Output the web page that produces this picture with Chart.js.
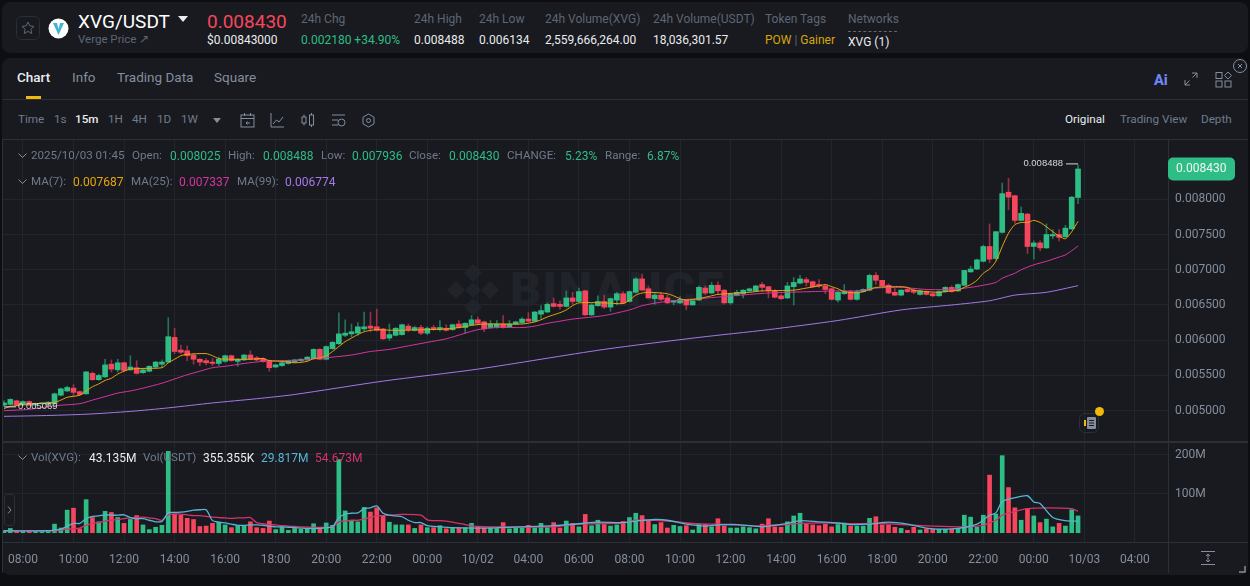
<!DOCTYPE html>
<html lang="en">
<head>
<meta charset="UTF-8">
<title>XVG/USDT</title>
<script src="https://cdn.jsdelivr.net/npm/chart.js"></script>
<style>
    html, body { margin: 0; padding: 0; width: 1250px; height: 586px; overflow: hidden; background: #0c0e11; font-family: Roboto, sans-serif; font-size: 12px; color: #848e9c; }
    .panel { position: absolute; background: #181a20; border-radius: 8px; }
    .t { position: absolute; white-space: nowrap; transform: translateY(-50%); line-height: 1; }
    .hr { position: absolute; background: #2b2f36; height: 1px; }
    .g { color: #5e6673; }
    .w { color: #eaecef; }
    .up { color: #2ebd85; }
    .yl { color: #d9a508; }
    .lg { font-size: 11.600px; color: #707a8a; }
    .tf { font-size: 11.700px; color: #707a8a; }
    canvas { position: absolute; left: 0; }
    svg { position: absolute; }
</style>
</head>
<body>
    <!-- header strip -->
    <div class="panel" style="left:2px;top:2px;width:1246px;height:51px"></div>
    <svg style="left:16px;top:16px" width="24" height="24" fill="none" stroke="#5e6673"><rect x=".5" y=".5" width="23" height="23" rx="5" stroke="#2b2f36"/><path d="M12 6l1.800 3.900 4.200.5-3.100 2.900.8 4.200-3.700-2.100-3.700 2.100.8-4.200L6 10.400l4.200-.5z"/></svg>
    <svg style="left:48px;top:18px" width="21" height="21"><circle cx="10.500" cy="10.500" r="10" fill="#fff"/><path d="M5 5h11l-5.500 12z" fill="#42b5d6"/><path d="M9 5h3l-1.500 6z" fill="#fff"/></svg>
    <span class="t" style="left:78px;top:21px;font-size:19px;color:#fff">XVG/USDT</span>
    <svg style="left:178px;top:16px" width="10" height="6"><path d="M0 0h10l-5 6z" fill="#eaecef"/></svg>
    <span class="t g" style="left:78px;top:40px;font-size:11.500px">Verge Price ↗</span>
    <span class="t" style="left:207px;top:21px;font-size:19px;color:#f6465d">0.008430</span>
    <span class="t w" style="left:207px;top:40px">$0.00843000</span>
    <span class="t g" style="left:301px;top:19px">24h Chg</span>
    <span class="t up" style="left:301px;top:40px">0.002180 +34.90%</span>
    <span class="t g" style="left:414px;top:19px">24h High</span>
    <span class="t w" style="left:414px;top:40px">0.008488</span>
    <span class="t g" style="left:479px;top:19px">24h Low</span>
    <span class="t w" style="left:479px;top:40px">0.006134</span>
    <span class="t g" style="left:545px;top:19px">24h Volume(XVG)</span>
    <span class="t w" style="left:545px;top:40px">2,559,666,264.00</span>
    <span class="t g" style="left:653px;top:19px">24h Volume(USDT)</span>
    <span class="t w" style="left:653px;top:40px">18,036,301.57</span>
    <span class="t g" style="left:765px;top:19px">Token Tags</span>
    <span class="t yl" style="left:765px;top:40px">POW <span class="g">|</span> Gainer</span>
    <span class="t g" style="left:848px;top:19px">Networks</span>
    <div style="position:absolute;left:848px;top:31px;width:49px;border-top:1px dashed #5e6673"></div>
    <span class="t w" style="left:848px;top:42px">XVG (1)</span>

    <!-- chart panel -->
    <div class="panel" style="left:2px;top:58px;width:1246px;height:517px"></div>
    <span class="t w" style="left:17px;top:78px;font-size:13.500px;font-weight:500">Chart</span>
    <span class="t" style="left:72px;top:78px;font-size:13.500px">Info</span>
    <span class="t" style="left:117px;top:78px;font-size:13.500px">Trading Data</span>
    <span class="t" style="left:214px;top:78px;font-size:13.500px">Square</span>
    <div style="position:absolute;left:26px;top:96px;width:15px;height:3px;background:#f0b90b"></div>
    <div class="hr" style="left:2px;top:99px;width:1246px"></div>
    <span class="t" style="left:1154px;top:81px;font-size:14.500px;font-weight:800;color:#6f86f5">Ai</span>
    <svg style="left:1184px;top:72px" width="14" height="14" fill="none" stroke="#848e9c"><path d="M8 1h5v5M13 1L8.500 5.500M6 13H1V8M1 13l4.500-4.500"/></svg>
    <svg style="left:1215px;top:71px" width="17" height="17" fill="none" stroke="#848e9c"><rect x="1" y="1.500" width="6" height="6"/><rect x="1" y="10" width="6" height="6"/><rect x="10" y="10" width="6" height="6"/><path d="M13 1l3.500 3.500L13 8 9.500 4.500z"/></svg>
    <svg style="left:1232px;top:58px" width="16" height="16" fill="none" stroke="#848e9c"><circle cx="8" cy="8" r="6.500"/><path d="M6 6l4 4M10 6l-4 4"/></svg>

    <span class="t tf" style="left:18px;top:120px">Time</span>
    <span class="t tf" style="left:54px;top:120px">1s</span>
    <span class="t w" style="left:75px;top:120px;font-size:11.700px;font-weight:500">15m</span>
    <span class="t tf" style="left:108px;top:120px">1H</span>
    <span class="t tf" style="left:132px;top:120px">4H</span>
    <span class="t tf" style="left:157px;top:120px">1D</span>
    <span class="t tf" style="left:181px;top:120px">1W</span>
    <svg style="left:213px;top:118px" width="8" height="5"><path d="M0 0h8l-4 5z" fill="#848e9c"/></svg>
    <svg style="left:240px;top:112px" width="15" height="16" fill="none" stroke="#848e9c"><rect x="1" y="3" width="13" height="12"/><path d="M1 6.500h13M4.500 1v3M10.500 1v3M10 11H6l1.500-1.500M6 11l1.500 1.500"/></svg>
    <svg style="left:270px;top:112px" width="15" height="16" fill="none" stroke="#848e9c"><path d="M1 1v14h13M3 12l3.500-4 2.500 2 4-5"/></svg>
    <svg style="left:301px;top:113px" width="14" height="14" fill="none" stroke="#848e9c"><rect x="1" y="4" width="4" height="6"/><rect x="8.500" y="2" width="4" height="10"/><path d="M3 1.500V4M3 10v2.500M10.500 0v2M10.500 12v2"/></svg>
    <svg style="left:331px;top:113px" width="15" height="15" fill="none" stroke="#848e9c"><path d="M1 2h13M1 7h6M1 12h6"/><circle cx="10.500" cy="9.500" r="3.500"/></svg>
    <svg style="left:362px;top:113px" width="13" height="15" fill="none" stroke="#848e9c"><path d="M6.500 1l5.500 3.200v6.600l-5.500 3.200L1 10.800V4.200z"/><circle cx="6.500" cy="7.500" r="2"/></svg>
    <span class="t w" style="left:1065px;top:120px;font-size:11.700px">Original</span>
    <span class="t tf" style="left:1120px;top:120px">Trading View</span>
    <span class="t tf" style="left:1201px;top:120px">Depth</span>
    <div class="hr" style="left:2px;top:139px;width:1246px"></div>

    <!-- watermark sits under the transparent canvases -->
    <svg style="left:443px;top:260px" width="60" height="60" fill="#20232a"><path d="M30 4l9 9-9 9-9-9zM13 21l9 9-9 9-9-9zM47 21l9 9-9 9-9-9zM30 22l8 8-8 8-8-8zM30 38l9 9-9 9-9-9z"/></svg>
    <span class="t" style="left:510px;top:290px;font-size:48px;font-weight:900;color:#20232a;letter-spacing:1.500px">BINANCE</span>

    <canvas id="price_chart" width="1250" height="301" style="top:140px;width:1250px;height:301px"></canvas>
    <div class="hr" style="left:2px;top:441px;width:1246px;height:2px"></div>
    <canvas id="volume_chart" width="1250" height="130" style="top:443px;width:1250px;height:130px"></canvas>
    <div class="hr" style="left:2px;top:542px;width:1246px"></div>
    <div class="hr" style="left:1168px;top:542px;width:1px;height:31px"></div>
    <div class="hr" style="left:2px;top:140px;width:1px;height:433px"></div>

    <!-- legends -->
    <svg style="left:18px;top:153px" width="9" height="6" fill="none" stroke="#848e9c"><path d="M.5.500L4.500 4.500 8.500.5"/></svg>
    <span class="t lg" style="left:31px;top:156px">2025/10/03 01:45</span>
    <span class="t lg" style="left:132px;top:156px">Open:</span><span class="t up" style="left:170px;top:156px">0.008025</span>
    <span class="t lg" style="left:228px;top:156px">High:</span><span class="t up" style="left:263px;top:156px">0.008488</span>
    <span class="t lg" style="left:321px;top:156px">Low:</span><span class="t up" style="left:352px;top:156px">0.007936</span>
    <span class="t lg" style="left:409px;top:156px">Close:</span><span class="t up" style="left:449px;top:156px">0.008430</span>
    <span class="t lg" style="left:507px;top:156px">CHANGE:</span><span class="t up" style="left:565px;top:156px">5.23%</span>
    <span class="t lg" style="left:605px;top:156px">Range:</span><span class="t up" style="left:647px;top:156px">6.87%</span>
    <svg style="left:18px;top:179px" width="9" height="6" fill="none" stroke="#848e9c"><path d="M.5.500L4.500 4.500 8.500.5"/></svg>
    <span class="t lg" style="left:31px;top:182px">MA(7):</span><span class="t" style="left:73px;top:182px;color:#e6a70c">0.007687</span>
    <span class="t lg" style="left:131px;top:182px">MA(25):</span><span class="t" style="left:179px;top:182px;color:#d6359f">0.007337</span>
    <span class="t lg" style="left:237px;top:182px">MA(99):</span><span class="t" style="left:285px;top:182px;color:#a678e8">0.006774</span>
    <svg style="left:18px;top:455px" width="9" height="6" fill="none" stroke="#848e9c"><path d="M.5.500L4.500 4.500 8.500.5"/></svg>
    <span class="t lg" style="left:31px;top:458px">Vol(XVG):</span><span class="t w" style="left:89px;top:458px">43.135M</span>
    <span class="t lg" style="left:143px;top:458px">Vol(USDT)</span><span class="t w" style="left:203px;top:458px">355.355K</span>
    <span class="t" style="left:261px;top:458px;color:#56b6d6">29.817M</span>
    <span class="t" style="left:315px;top:458px;color:#d6336c">54.673M</span>

    <svg style="left:4px;top:494px" width="11" height="32" fill="none" stroke="#2b2f36"><rect x=".5" y=".5" width="10" height="31" rx="3"/><path d="M4 12.500L7 16l-3 3.500" stroke="#848e9c"/></svg>
    <svg style="left:1079px;top:406px" width="26" height="28" fill="none"><rect x=".5" y="7.500" width="19" height="19" rx="5" stroke="#2b2f36"/><rect x="8" y="11" width="9" height="12" rx="1" fill="#848e9c"/><path d="M10 14.500h5M10 17h5M10 19.500h5" stroke="#181a20"/><rect x="5" y="14" width="2" height="6" fill="#f0b90b"/><circle cx="20.500" cy="5.500" r="4.500" fill="#f0b90b"/></svg>
    <svg style="left:1201px;top:551px" width="14" height="14" fill="none" stroke="#848e9c"><path d="M0 .5h14M0 13.500h14M7 3v8M5 5l2-2 2 2M5 9l2 2 2-2"/></svg>
    <svg style="left:1239px;top:566px" width="7" height="7" fill="none" stroke="#848e9c" stroke-width="1.500"><path d="M6 0v6H0"/></svg>

    <script>
        // candles are 15m, oldest first
        const opens = [
            0.00508, 0.00509, 0.00514, 0.00508, 0.00513, 0.00508, 0.00510, 0.00509, 0.00510, 0.00522,
            0.00528, 0.00532, 0.00527, 0.00524, 0.00553, 0.00544, 0.00548, 0.00566, 0.00558, 0.00568,
            0.00558, 0.00561, 0.00554, 0.00556, 0.00562, 0.00566, 0.00569, 0.00604, 0.00586, 0.00585,
            0.00579, 0.00573, 0.00571, 0.00569, 0.00567, 0.00570, 0.00578, 0.00570, 0.00572, 0.00579,
            0.00575, 0.00574, 0.00571, 0.00562, 0.00564, 0.00567, 0.00569, 0.00571, 0.00572, 0.00574,
            0.00587, 0.00573, 0.00588, 0.00595, 0.00607, 0.00609, 0.00610, 0.00616, 0.00620, 0.00619,
            0.00616, 0.00603, 0.00607, 0.00608, 0.00620, 0.00614, 0.00618, 0.00610, 0.00618, 0.00615,
            0.00617, 0.00615, 0.00623, 0.00618, 0.00622, 0.00629, 0.00626, 0.00618, 0.00619, 0.00623,
            0.00619, 0.00623, 0.00625, 0.00630, 0.00627, 0.00637, 0.00640, 0.00652, 0.00651, 0.00648,
            0.00660, 0.00655, 0.00670, 0.00636, 0.00649, 0.00655, 0.00647, 0.00657, 0.00666, 0.00655,
            0.00668, 0.00687, 0.00673, 0.00659, 0.00664, 0.00660, 0.00654, 0.00653, 0.00657, 0.00650,
            0.00657, 0.00674, 0.00667, 0.00678, 0.00671, 0.00653, 0.00664, 0.00666, 0.00670, 0.00670,
            0.00679, 0.00676, 0.00670, 0.00663, 0.00660, 0.00676, 0.00681, 0.00686, 0.00683, 0.00679,
            0.00677, 0.00673, 0.00657, 0.00666, 0.00669, 0.00658, 0.00669, 0.00671, 0.00692, 0.00685,
            0.00678, 0.00668, 0.00664, 0.00672, 0.00671, 0.00665, 0.00669, 0.00666, 0.00663, 0.00669,
            0.00675, 0.00670, 0.00678, 0.00697, 0.00701, 0.00712, 0.00733, 0.00716, 0.00753, 0.00810,
            0.00805, 0.00770, 0.00779, 0.00733, 0.00738, 0.00731, 0.00748, 0.00750, 0.00747, 0.00758,
            0.008025
        ];
        const closes = [
            0.00511, 0.00516, 0.00508, 0.00513, 0.00508, 0.00510, 0.00511, 0.00512, 0.00524, 0.00531,
            0.00533, 0.00526, 0.00523, 0.00555, 0.00544, 0.00550, 0.00565, 0.00559, 0.00568, 0.00557,
            0.00562, 0.00553, 0.00558, 0.00563, 0.00569, 0.00569, 0.00605, 0.00584, 0.00583, 0.00578,
            0.00573, 0.00569, 0.00568, 0.00567, 0.00573, 0.00578, 0.00571, 0.00573, 0.00579, 0.00573,
            0.00572, 0.00570, 0.00561, 0.00565, 0.00568, 0.00571, 0.00572, 0.00573, 0.00576, 0.00587,
            0.00573, 0.00591, 0.00597, 0.00609, 0.00610, 0.00612, 0.00619, 0.00619, 0.00617, 0.00614,
            0.00602, 0.00608, 0.00617, 0.00622, 0.00615, 0.00618, 0.00610, 0.00617, 0.00615, 0.00618,
            0.00614, 0.00622, 0.00618, 0.00624, 0.00629, 0.00624, 0.00616, 0.00623, 0.00623, 0.00618,
            0.00623, 0.00626, 0.00630, 0.00627, 0.00640, 0.00642, 0.00651, 0.00648, 0.00648, 0.00660,
            0.00655, 0.00669, 0.00636, 0.00650, 0.00655, 0.00647, 0.00659, 0.00666, 0.00653, 0.00669,
            0.00687, 0.00671, 0.00660, 0.00664, 0.00658, 0.00653, 0.00656, 0.00658, 0.00650, 0.00656,
            0.00675, 0.00667, 0.00678, 0.00670, 0.00653, 0.00666, 0.00668, 0.00671, 0.00673, 0.00677,
            0.00675, 0.00670, 0.00661, 0.00659, 0.00677, 0.00682, 0.00687, 0.00682, 0.00676, 0.00677,
            0.00672, 0.00658, 0.00668, 0.00669, 0.00658, 0.00669, 0.00672, 0.00692, 0.00685, 0.00677,
            0.00667, 0.00664, 0.00671, 0.00669, 0.00668, 0.00670, 0.00665, 0.00663, 0.00669, 0.00675,
            0.00669, 0.00679, 0.00699, 0.00701, 0.00714, 0.00733, 0.00715, 0.00754, 0.00808, 0.00803,
            0.00770, 0.00780, 0.00733, 0.00738, 0.00731, 0.00750, 0.00750, 0.00746, 0.00759, 0.00803,
            0.00843
        ];
        const highs = [
            0.00514, 0.00517, 0.00515, 0.00514, 0.00514, 0.00511, 0.00512, 0.00513, 0.00525, 0.00532,
            0.00535, 0.00537, 0.00528, 0.00556, 0.00555, 0.00552, 0.00573, 0.00572, 0.00573, 0.00569,
            0.00578, 0.00571, 0.00559, 0.00564, 0.00570, 0.00572, 0.00632, 0.00617, 0.00593, 0.00592,
            0.00581, 0.00574, 0.00574, 0.00574, 0.00576, 0.00579, 0.00579, 0.00574, 0.00580, 0.00585,
            0.00577, 0.00575, 0.00572, 0.00566, 0.00569, 0.00572, 0.00573, 0.00574, 0.00577, 0.00588,
            0.00588, 0.00592, 0.00598, 0.00639, 0.00629, 0.00623, 0.00625, 0.00640, 0.00640, 0.00644,
            0.00617, 0.00623, 0.00618, 0.00623, 0.00623, 0.00620, 0.00621, 0.00619, 0.00621, 0.00628,
            0.00622, 0.00623, 0.00628, 0.00625, 0.00635, 0.00633, 0.00627, 0.00628, 0.00628, 0.00635,
            0.00628, 0.00627, 0.00632, 0.00639, 0.00641, 0.00649, 0.00653, 0.00660, 0.00656, 0.00670,
            0.00668, 0.00674, 0.00671, 0.00652, 0.00663, 0.00664, 0.00660, 0.00668, 0.00669, 0.00670,
            0.00689, 0.00694, 0.00677, 0.00667, 0.00668, 0.00664, 0.00656, 0.00662, 0.00658, 0.00656,
            0.00677, 0.00677, 0.00682, 0.00683, 0.00672, 0.00667, 0.00671, 0.00672, 0.00674, 0.00678,
            0.00682, 0.00676, 0.00672, 0.00665, 0.00682, 0.00689, 0.00692, 0.00689, 0.00684, 0.00686,
            0.00679, 0.00674, 0.00669, 0.00679, 0.00671, 0.00671, 0.00673, 0.00694, 0.00696, 0.00685,
            0.00680, 0.00674, 0.00672, 0.00675, 0.00673, 0.00671, 0.00670, 0.00667, 0.00670, 0.00676,
            0.00677, 0.00680, 0.00699, 0.00705, 0.00715, 0.00735, 0.00765, 0.00754, 0.00823, 0.00830,
            0.00806, 0.00789, 0.00780, 0.00741, 0.00741, 0.00765, 0.00757, 0.00757, 0.00763, 0.00804,
            0.008488
        ];
        const lows = [
            0.005069, 0.00508, 0.00507, 0.00507, 0.00507, 0.00507, 0.00509, 0.00508, 0.00509, 0.00521,
            0.00527, 0.00521, 0.00522, 0.00523, 0.00543, 0.00543, 0.00547, 0.00555, 0.00555, 0.00556,
            0.00557, 0.00552, 0.00553, 0.00555, 0.00561, 0.00562, 0.00568, 0.00581, 0.00581, 0.00571,
            0.00566, 0.00564, 0.00565, 0.00564, 0.00564, 0.00569, 0.00570, 0.00563, 0.00571, 0.00572,
            0.00571, 0.00569, 0.00556, 0.00561, 0.00563, 0.00566, 0.00568, 0.00570, 0.00571, 0.00573,
            0.00572, 0.00572, 0.00587, 0.00594, 0.00605, 0.00605, 0.00607, 0.00613, 0.00612, 0.00613,
            0.00601, 0.00600, 0.00606, 0.00607, 0.00612, 0.00613, 0.00608, 0.00608, 0.00614, 0.00613,
            0.00613, 0.00614, 0.00617, 0.00610, 0.00621, 0.00623, 0.00612, 0.00617, 0.00617, 0.00617,
            0.00618, 0.00622, 0.00624, 0.00626, 0.00626, 0.00631, 0.00639, 0.00647, 0.00644, 0.00647,
            0.00651, 0.00654, 0.00635, 0.00635, 0.00648, 0.00645, 0.00641, 0.00650, 0.00653, 0.00654,
            0.00667, 0.00671, 0.00660, 0.00651, 0.00656, 0.00652, 0.00650, 0.00652, 0.00643, 0.00650,
            0.00656, 0.00665, 0.00666, 0.00665, 0.00651, 0.00651, 0.00663, 0.00660, 0.00669, 0.00669,
            0.00669, 0.00660, 0.00660, 0.00658, 0.00659, 0.00650, 0.00680, 0.00677, 0.00675, 0.00675,
            0.00666, 0.00657, 0.00654, 0.00665, 0.00657, 0.00657, 0.00668, 0.00670, 0.00679, 0.00676,
            0.00666, 0.00663, 0.00663, 0.00668, 0.00666, 0.00664, 0.00664, 0.00662, 0.00662, 0.00668,
            0.00668, 0.00669, 0.00677, 0.00696, 0.00700, 0.00711, 0.00710, 0.00714, 0.00752, 0.00785,
            0.00766, 0.00769, 0.00723, 0.00715, 0.00727, 0.00730, 0.00744, 0.00741, 0.00746, 0.00757,
            0.007936
        ];
        const volumes = [
            5, 11, 4, 3.5, 3.5, 3, 2.5, 3, 22, 12,
            58, 63, 10, 85, 39, 28, 55, 52, 39, 24,
            34, 44, 20, 8, 14, 19, 209, 48, 45, 37,
            34, 16, 17, 24, 27, 20, 13, 17, 17, 28,
            13, 11, 30, 8, 15, 6, 11, 9, 11, 23,
            14, 25, 19, 188, 56, 30, 28, 65, 53, 64,
            44, 27, 20, 20, 20, 11, 20, 13, 13, 18,
            10, 12, 13, 13, 24, 15, 12, 12, 11, 26,
            10, 12, 12, 19, 13, 24, 13, 26, 12, 30,
            24, 15, 47, 18, 32, 21, 17, 20, 29, 39,
            50, 44, 30, 21, 26, 12, 19, 16, 18, 7,
            22, 22, 15, 36, 17, 12, 12, 15, 13, 10,
            22, 36, 15, 14, 28, 43, 50, 22, 20, 18,
            22, 15, 21, 25, 17, 17, 17, 37, 41, 20,
            20, 14, 11, 6, 14, 7, 10, 9, 9, 9,
            9, 11, 45, 40, 14, 45, 148, 48, 198, 116,
            64, 32, 62, 43, 26, 35, 15, 24, 17, 59,
            43.135
        ];

        // moving averages as [candle index, value]
        const ma7Points = [
            [0, 0.00503], [1, 0.00506], [2, 0.00507], [3, 0.00509], [5, 0.00510], [8, 0.00512], [9, 0.00515], [10, 0.00519], [12, 0.00522],
            [13, 0.00528], [14, 0.00534], [15, 0.00538], [16, 0.00543], [17, 0.00546], [18, 0.00552], [19, 0.00556], [20, 0.00559], [22, 0.00560],
            [25, 0.00561], [26, 0.00568], [27, 0.00573], [28, 0.00578], [29, 0.00580], [32, 0.00581], [33, 0.00578], [34, 0.00574], [36, 0.00573],
            [39, 0.00573], [41, 0.00574], [42, 0.00571], [44, 0.00570], [46, 0.00568], [48, 0.00570], [49, 0.00574], [50, 0.00575], [51, 0.00578],
            [52, 0.00584], [53, 0.00591], [54, 0.00598], [55, 0.00603], [56, 0.00608], [57, 0.00612], [58, 0.00614], [59, 0.00615], [62, 0.00614],
            [67, 0.00615], [70, 0.00616], [72, 0.00618], [74, 0.00621], [76, 0.00623], [82, 0.00623], [84, 0.00626], [85, 0.00629], [86, 0.00633],
            [87, 0.00636], [88, 0.00639], [89, 0.00643], [90, 0.00649], [91, 0.00653], [95, 0.00653], [98, 0.00652], [99, 0.00657], [100, 0.00664],
            [101, 0.00667], [102, 0.00668], [104, 0.00667], [105, 0.00666], [106, 0.00663], [107, 0.00659], [108, 0.00657], [110, 0.00659], [111, 0.00661],
            [112, 0.00663], [113, 0.00665], [116, 0.00667], [118, 0.00668], [120, 0.00670], [125, 0.00671], [127, 0.00674], [129, 0.00677], [130, 0.00679],
            [131, 0.00676], [132, 0.00673], [133, 0.00669], [135, 0.00667], [136, 0.00669], [137, 0.00672], [138, 0.00675], [142, 0.00676], [143, 0.00675],
            [144, 0.00671], [146, 0.00669], [148, 0.00668], [150, 0.00670], [151, 0.00671], [152, 0.00675], [153, 0.00679], [154, 0.00685], [155, 0.00695],
            [156, 0.00701], [157, 0.00712], [158, 0.00733], [159, 0.00752], [160, 0.00764], [161, 0.00767], [162, 0.00767], [163, 0.00770], [164, 0.00767],
            [165, 0.00761], [166, 0.00754], [167, 0.00748], [168, 0.00744], [169, 0.00754], [170, 0.007687]
        ];
        const ma25Points = [
            [0, 0.00500], [4, 0.00502], [8, 0.00507], [12, 0.00510], [14, 0.00515], [16, 0.00520], [18, 0.00525], [20, 0.00528], [22, 0.00532],
            [25, 0.00539], [27, 0.00545], [29, 0.00551], [31, 0.00556], [33, 0.00561], [35, 0.00563], [38, 0.00567], [41, 0.00570], [47, 0.00572],
            [52, 0.00576], [55, 0.00579], [58, 0.00584], [61, 0.00587], [64, 0.00592], [67, 0.00597], [70, 0.00602], [73, 0.00610], [75, 0.00615],
            [78, 0.00618], [82, 0.00618], [84, 0.00620], [86, 0.00624], [88, 0.00627], [90, 0.00630], [95, 0.00635], [99, 0.00643], [101, 0.00649],
            [104, 0.00654], [107, 0.00657], [110, 0.00659], [114, 0.00662], [118, 0.00665], [121, 0.00667], [124, 0.00668], [128, 0.00669], [132, 0.00670],
            [135, 0.00670], [138, 0.00674], [142, 0.00675], [146, 0.00672], [150, 0.00672], [153, 0.00675], [155, 0.00678], [157, 0.00682], [158, 0.00688],
            [160, 0.00695], [161, 0.00700], [163, 0.00707], [165, 0.00712], [167, 0.00718], [168, 0.00721], [169, 0.00727], [170, 0.007337]
        ];
        const ma99Points = [
            [0, 0.00492], [6, 0.00493], [13, 0.00495], [20, 0.00499], [26, 0.00504], [33, 0.00511], [40, 0.00517], [46, 0.00523], [60, 0.00542],
            [75, 0.00559], [95, 0.00587], [110, 0.00604], [121, 0.00615], [132, 0.00628], [142, 0.00643], [150, 0.00650], [156, 0.00656], [160, 0.00664],
            [165, 0.00668], [170, 0.006774]
        ];
        const volMa7Points = [
            [0, 5], [7, 5], [8, 7], [9, 8.5], [10, 17], [11, 24], [12, 24], [13, 36], [14, 42], [15, 43], [16, 46], [17, 45], [18, 45], [19, 46], [20, 39],
            [21, 36], [22, 36], [23, 32], [24, 28], [25, 29], [26, 51], [27, 52], [28, 53], [29, 55], [30, 58], [31, 59], [32, 59], [33, 31], [34, 27],
            [35, 25], [36, 22], [37, 19], [38, 19], [39, 20], [40, 20], [41, 19], [42, 17], [43, 15], [44, 15], [45, 14], [46, 13], [47, 12], [48, 11],
            [50, 11], [51, 13], [52, 15], [53, 39], [54, 48], [55, 50], [56, 51], [57, 62], [58, 64], [59, 69], [60, 50], [61, 45], [62, 43], [63, 41],
            [64, 32], [65, 26], [66, 26], [67, 18], [69, 15], [71, 13], [76, 12], [82, 15], [87, 18], [91, 23], [94, 27], [98, 26], [100, 30], [103, 34],
            [105, 32], [108, 22], [111, 17], [113, 20], [116, 21], [119, 17], [120, 15], [124, 24], [126, 31], [129, 28], [132, 25], [134, 21], [137, 22],
            [140, 27], [143, 22], [146, 12], [148, 9], [151, 11], [154, 22], [156, 45], [157, 51], [158, 80], [160, 90], [162, 95], [163, 79], [164, 75],
            [166, 39], [168, 31], [170, 29.817]
        ];
        const volMa25Points = [
            [0, 5], [8, 5], [9, 7], [10, 9], [11, 10], [12, 12], [13, 19], [14, 24], [15, 26], [16, 30], [17, 32], [18, 34], [19, 36], [20, 38], [21, 39],
            [22, 40], [23, 38], [24, 36], [25, 32], [26, 46], [27, 48], [28, 48], [29, 46], [30, 44], [31, 44], [32, 42], [33, 40], [34, 39], [35, 38],
            [36, 37], [37, 38], [38, 38], [39, 39], [40, 26], [41, 23], [42, 21], [43, 20], [44, 18], [45, 17], [46, 16], [47, 15], [52, 15], [53, 28],
            [54, 30], [55, 32], [56, 32], [57, 35], [58, 39], [59, 43], [60, 44], [62, 46], [63, 47], [66, 45], [67, 33], [68, 31], [69, 31], [70, 30],
            [71, 27], [72, 24], [73, 21], [74, 17], [75, 16], [77, 15], [87, 15], [89, 19], [91, 22], [93, 23], [98, 25], [100, 32], [103, 32], [106, 29],
            [108, 25], [111, 22], [113, 22], [116, 20], [119, 17], [121, 19], [124, 21], [126, 24], [131, 25], [134, 23], [138, 24], [142, 21], [147, 17],
            [152, 15], [155, 19], [156, 26], [157, 32], [158, 45], [160, 55], [162, 62], [165, 64], [169, 62], [170, 54.673]
        ];

        const priceTicks = [0.005, 0.0055, 0.006, 0.0065, 0.007, 0.0075, 0.008];
        const volumeTicks = [100, 200];
        const timeTickIndex = [3, 11, 19, 27, 35, 43, 51, 59, 67, 75, 83, 91, 99, 107, 115, 123, 131, 139, 147, 155, 163, 171, 179];
        const timeLabels = ["08:00", "10:00", "12:00", "14:00", "16:00", "18:00", "20:00", "22:00", "00:00", "10/02", "04:00", "06:00",
            "08:00", "10:00", "12:00", "14:00", "16:00", "18:00", "20:00", "22:00", "00:00", "10/03", "04:00"];

        const upColor = "#2ebd85", downColor = "#f6465d";
        const upWick = "rgba(46,189,133,.55)", downWick = "rgba(246,70,93,.55)";
        const gridColor = "#22262c", edgeColor = "#2b2f36";
        const tickFont = { family: "Roboto", size: 12 };
        const xMin = -0.3166, xMax = 184.24;
        const candleUp = closes.map((c, i) => c >= opens[i]);

        const toXY = pts => pts.map(p => ({ x: p[0], y: p[1] }));
        const maLine = (pts, color, width) => ({
            type: "line", data: toXY(pts), borderColor: color, borderWidth: width,
            pointRadius: 0, tension: 0.25, order: 1
        });

        function xScale(withLabels) {
            return {
                type: "linear", min: xMin, max: xMax,
                offset: false,
                afterBuildTicks: s => { s.ticks = timeTickIndex.map(v => ({ value: v })); },
                afterFit: s => { s.height = withLabels ? 31 : 0; s.paddingLeft = 0; s.paddingRight = 0; },
                grid: { color: gridColor, drawTicks: false, offset: false },
                border: { display: false },
                ticks: {
                    display: withLabels, autoSkip: false, maxRotation: 0, padding: 11,
                    color: "#848e9c", font: tickFont,
                    callback: (v, i) => timeLabels[i]
                }
            };
        }

        function yScale(min, max, tickList, format) {
            return {
                position: "right", min: min, max: max,
                afterBuildTicks: s => { s.ticks = tickList.map(v => ({ value: v })); },
                afterFit: s => { s.width = 82; s.paddingTop = 0; s.paddingBottom = 0; },
                grid: { color: gridColor, drawTicks: false },
                border: { color: edgeColor },
                ticks: { color: "#848e9c", font: tickFont, padding: 7, callback: format }
            };
        }

        // high/low callouts and the last price tag
        const priceMarks = {
            id: "priceMarks",
            afterDatasetsDraw(chart) {
                const ctx = chart.ctx, x = chart.scales.x, y = chart.scales.y;
                ctx.save();
                ctx.font = "9.500px 'Liberation Sans'";
                ctx.fillStyle = "#d5d7da";
                ctx.textBaseline = "middle";
                const hy = y.getPixelForValue(highs[170]) - 1.5, hx = x.getPixelForValue(170);
                ctx.textAlign = "right";
                ctx.fillText(highs[170].toFixed(6), hx - 15, hy);
                ctx.fillRect(hx - 12, hy, 12, 1);
                const ly = y.getPixelForValue(lows[0]) + 0.5, lx = x.getPixelForValue(0);
                ctx.textAlign = "left";
                ctx.fillText(lows[0].toFixed(6), lx + 14, ly);
                ctx.fillRect(lx, ly, 12, 1);
                const ty = y.getPixelForValue(closes[170]);
                ctx.fillStyle = upColor;
                ctx.beginPath();
                ctx.roundRect(1168, ty - 11.5, 67, 23, 5);
                ctx.fill();
                ctx.fillStyle = "#f5f5f5";
                ctx.font = "12px Roboto";
                ctx.fillText(closes[170].toFixed(6), 1176, ty + 0.5);
                ctx.restore();
            }
        };

        new Chart("price_chart", {
            type: "bar",
            data: {
                datasets: [
                    maLine(ma7Points, "#e6a70c", 1),
                    maLine(ma25Points, "#d6359f", 1),
                    maLine(ma99Points, "#a678e8", 1),
                    {
                        data: opens.map((o, i) => ({ x: i, y: [o, closes[i]] })),
                        backgroundColor: candleUp.map(u => u ? upColor : downColor),
                        barThickness: 5, order: 2
                    },
                    {
                        data: lows.map((l, i) => ({ x: i, y: [l, highs[i]] })),
                        backgroundColor: candleUp.map(u => u ? upWick : downWick),
                        barThickness: 1, order: 3
                    }
                ]
            },
            options: {
                responsive: false, animation: false, events: [],
                layout: { padding: { left: 2 } },
                plugins: { legend: { display: false }, tooltip: { enabled: false } },
                datasets: { bar: { grouped: false } },
                scales: {
                    x: xScale(false),
                    y: yScale(0.00457, 0.008841, priceTicks, v => v.toFixed(6))
                }
            },
            plugins: [priceMarks]
        });

        new Chart("volume_chart", {
            type: "bar",
            data: {
                datasets: [
                    maLine(volMa7Points, "#56b6d6", 1.3),
                    maLine(volMa25Points, "#d6336c", 1.3),
                    {
                        data: volumes.map((v, i) => ({ x: i, y: v })),
                        backgroundColor: candleUp.map(u => u ? upColor : downColor),
                        barThickness: 4, order: 2
                    }
                ]
            },
            options: {
                responsive: false, animation: false, events: [],
                layout: { padding: { left: 2 } },
                plugins: { legend: { display: false }, tooltip: { enabled: false } },
                datasets: { bar: { grouped: false } },
                scales: {
                    x: xScale(true),
                    y: yScale(-23.9, 230.6, volumeTicks, v => v + "M")
                }
            }
        });
    </script>
</body>
</html>
